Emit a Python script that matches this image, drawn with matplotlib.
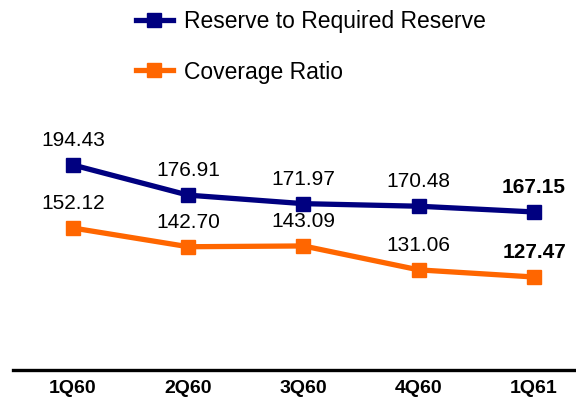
import matplotlib.pyplot as plt

plt.rcParams['font.family'] = ['Liberation Sans', 'DejaVu Sans']

quarters = ['1Q60', '2Q60', '3Q60', '4Q60', '1Q61']
reserve_ratio = [194.43, 176.91, 171.97, 170.48, 167.15]
coverage_ratio = [152.12, 142.70, 143.09, 131.06, 127.47]

navy = '#000080'
orange = '#FF6600'

fig = plt.figure(figsize=(5.76, 4.05), dpi=100)
ax = fig.add_axes([13 / 576, 35 / 405, 1 - 13 / 576, 1 - 35 / 405])
ax2 = ax.twinx()  # the two series sit on their own scales in the original

x = list(range(len(quarters)))
l1, = ax.plot(x, reserve_ratio, color=navy, lw=3.8, marker='s', ms=10,
              label='Reserve to Required Reserve')
l2, = ax2.plot(x, coverage_ratio, color=orange, lw=3.8, marker='s', ms=10,
               label='Coverage Ratio')

# data labels, last one bold
for a, series in ((ax, reserve_ratio), (ax2, coverage_ratio)):
    for i, v in enumerate(series):
        a.annotate(f'{v:.2f}', (i, v), xytext=(0, 17.5), textcoords='offset points',
                   ha='center', va='center', fontsize=15,
                   fontweight='bold' if i == len(series) - 1 else 'normal')

ax.set_xlim(-0.52, 4.364)
ax.set_ylim(75.4, 290.2)
ax2.set_ylim(80.7, 266.8)
ax.set_xticks(x)
ax.set_xticklabels(quarters, fontsize=14, fontweight='bold')
ax.tick_params(axis='x', length=0, pad=7.5)
ax.set_yticks([])
ax2.set_yticks([])
for a in (ax, ax2):
    for side in ('left', 'right', 'top'):
        a.spines[side].set_visible(False)
ax.spines['bottom'].set_linewidth(2.4)
ax2.spines['bottom'].set_visible(False)

ax.legend(handles=[l1, l2], loc='center left',
          bbox_to_anchor=(136 / 576, 1 - 47 / 405),
          bbox_transform=fig.transFigure, frameon=False, fontsize=16.5,
          handlelength=1.6, handletextpad=0.5, labelspacing=1.18,
          borderpad=0, borderaxespad=0)

plt.savefig('out.png', dpi=100)
